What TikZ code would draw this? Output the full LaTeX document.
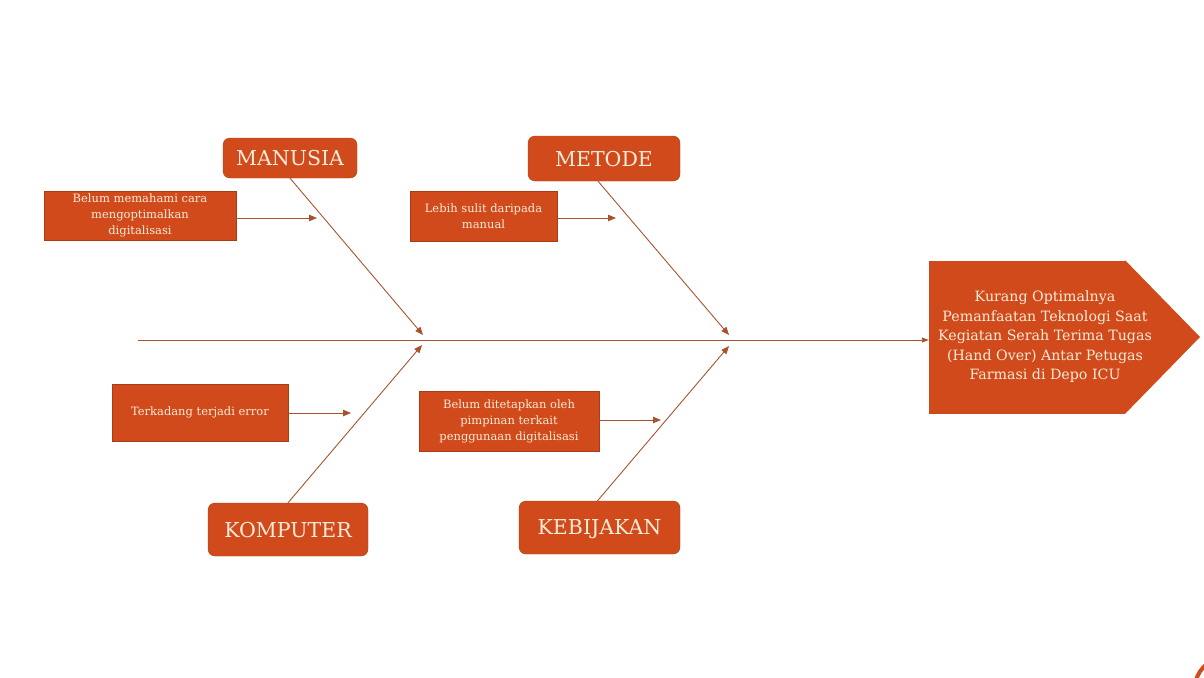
\documentclass[tikz,border=0pt]{standalone}
\usepackage{fontspec}
\setmainfont{DejaVu Serif}
\usepackage{xcolor}
\usepackage{tikz}
\usetikzlibrary{arrows.meta, calc}
\definecolor{boneorange}{HTML}{D04A1B}
\definecolor{boneborder}{HTML}{A83C16}
\definecolor{bonetext}{HTML}{FCEBD8}
\definecolor{boneline}{HTML}{A9532E}

\tikzset{
  catbox/.style={fill=boneorange, draw=boneborder, rounded corners=7pt,
    text=bonetext, font=\fontsize{20.5}{24}\selectfont, inner sep=0pt,
    text depth=0pt},
  causebox/.style={fill=boneorange, draw=boneborder, text=bonetext,
    font=\fontsize{11.5}{16}\selectfont, align=center, inner sep=0pt},
  bone/.style={draw=boneline, line width=0.9pt,
    -{Triangle[length=8pt, width=6.5pt]}},
}

\begin{document}
\begin{tikzpicture}[x=1pt, y=-1pt]
    \useasboundingbox (0,0) rectangle (1204,677);

    % effect (head of the fish)
    \node[fill=boneorange, minimum width=196pt, minimum height=153pt,
          inner sep=0pt] (effect) at (1027,337) {};
    \coordinate (tip) at (1200,337);
    \fill[boneorange] (effect.north east) -- (tip) -- (effect.south east) -- cycle;
    \node[text=bonetext, align=center, font=\fontsize{14.2}{19.5}\selectfont]
      (effecttext) at (1045,337) {%
      Kurang Optimalnya\\
      Pemanfaatan Teknologi Saat\\
      Kegiatan Serah Terima Tugas\\
      (Hand Over) Antar Petugas\\
      Farmasi di Depo ICU};

    % spine
    \coordinate (tail) at (138,340);
    \draw[bone, -{Triangle[length=7pt, width=5pt]}] (tail) -- (tail -| effect.west);

    % categories
    \node[catbox, minimum width=134pt, minimum height=40pt] (manusia) at (290,158) {MANUSIA};
    \node[catbox, minimum width=152pt, minimum height=45pt] (metode) at (604,158.5) {METODE};
    \node[catbox, minimum width=160pt, minimum height=53pt] (komputer) at (288,529.5) {KOMPUTER};
    \node[catbox, minimum width=161pt, minimum height=53pt] (kebijakan) at (599.5,527.5) {KEBIJAKAN};

    \coordinate (j1) at (423,335);
    \coordinate (j2) at (729,335);
    \coordinate (j3) at (422,345);
    \coordinate (j4) at (729,346);
    \draw[bone] (manusia.south) -- (j1);
    \draw[bone] ([xshift=-6pt]metode.south) -- (j2);
    \draw[bone] (komputer.north) -- (j3);
    \draw[bone] ([xshift=-2pt]kebijakan.north) -- (j4);

    % causes
    \node[causebox, minimum width=192pt, minimum height=49pt] (cause1) at (140,215.5)
      {Belum memahami cara\\ mengoptimalkan\\ digitalisasi};
    \node[causebox, minimum width=147pt, minimum height=50pt] (cause2) at (483.5,216)
      {Lebih sulit daripada\\ manual};
    \node[causebox, minimum width=176pt, minimum height=57pt] (cause3) at (200,412.5)
      {Terkadang terjadi error};
    \node[causebox, minimum width=180pt, minimum height=60pt] (cause4) at (509,421)
      {Belum ditetapkan oleh\\ pimpinan terkait\\ penggunaan digitalisasi};

    \coordinate (a1) at (317,218);
    \coordinate (a2) at (616,218);
    \coordinate (a3) at (351,413);
    \coordinate (a4) at (661,420);
    \draw[bone] (cause1.east |- a1) -- (a1);
    \draw[bone] (cause2.east |- a2) -- (a2);
    \draw[bone] (cause3.east |- a3) -- (a3);
    \draw[bone] (cause4.east |- a4) -- (a4);

    % corner of a cut-off mark
    \draw[boneorange, line width=4pt] (1225,688) circle (30pt);
  \end{tikzpicture}
\end{document}
